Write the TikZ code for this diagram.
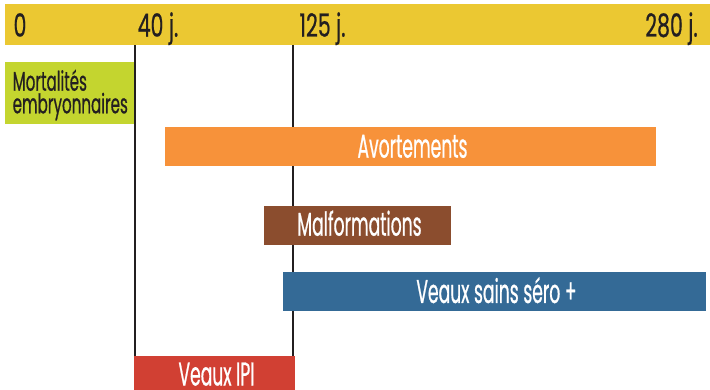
\documentclass[tikz,border=0pt]{standalone}
\usepackage{fontspec}
\newfontfamily\lbl[FakeStretch=0.52,FakeBold=0.6]{Poppins}
\newfontfamily\sml[FakeStretch=0.56,FakeBold=0.6]{Poppins}
\newfontfamily\axl[FakeStretch=0.64,FakeBold=0.6]{Poppins}
\definecolor{cyellow}{HTML}{EBC832}
\definecolor{cgreen}{HTML}{C4D52F}
\definecolor{corange}{HTML}{F7923A}
\definecolor{cbrown}{HTML}{8B4D2E}
\definecolor{cblue}{HTML}{346A96}
\definecolor{cred}{HTML}{D14033}
\definecolor{cdark}{HTML}{231F20}
\tikzset{
  bar/.style={draw=none,inner sep=0pt,outer sep=0pt,anchor=north west},
  big/.style={inner sep=0pt,anchor=base,font=\lbl\fontsize{33}{33}\selectfont},
  axis/.style={inner sep=0pt,anchor=base,font=\axl\fontsize{32}{32}\selectfont,text=cdark},
  wlab/.style={big,text=white},
  small/.style={inner sep=0pt,anchor=base west,align=left,font=\sml\fontsize{27}{22.6}\selectfont,text=cdark},
  vline/.style={draw=cdark,line width=2.2pt}
}
\begin{document}
\begin{tikzpicture}[x=1pt,y=-1pt]
\useasboundingbox (0,0) rectangle (710,390);
% axis band
\node[bar,fill=cyellow,minimum width=705pt,minimum height=41.5pt] (band) at (5,4) {};
\node[axis] (t0) at (20,36.7) {0};
\node[axis] (t40) at (158,36.7) {40 j.};
\node[axis] (t125) at (322.5,36.7) {125 j.};
\node[axis] (t280) at (671.5,36.7) {280 j.};
% reference markers
\coordinate (m40top) at (135,45.5);
\coordinate (m40bot) at (135,356);
\coordinate (m125top) at (293,45.5);
\coordinate (m125bot) at (293,356);
\draw[vline] (m40top) -- (m40bot);
\draw[vline] (m125top) -- (m125bot);
% bars
\node[bar,fill=cgreen,minimum width=129pt,minimum height=62pt] (mort) at (5,62) {};
\node[small] (mortl) at (12.5,113.3) {Mortalités\\embryonnaires};
\node[bar,fill=corange,minimum width=491pt,minimum height=39pt] (avort) at (165,127) {};
\node[wlab] (avortl) at (412.5,157.7) {Avortements};
\node[bar,fill=cbrown,minimum width=187pt,minimum height=39pt] (malf) at (264,206) {};
\node[wlab] (malfl) at (359.5,235.7) {Malformations};
\node[bar,fill=cblue,minimum width=423pt,minimum height=39pt] (veaux) at (283,272) {};
\node[wlab] (veauxl) at (496.5,303) {Veaux sains séro +};
\node[bar,fill=cred,minimum width=161pt,minimum height=34pt] (ipi) at (134,356) {};
\node[wlab] (ipil) at (216.5,385.5) {Veaux IPI};
\end{tikzpicture}
\end{document}
